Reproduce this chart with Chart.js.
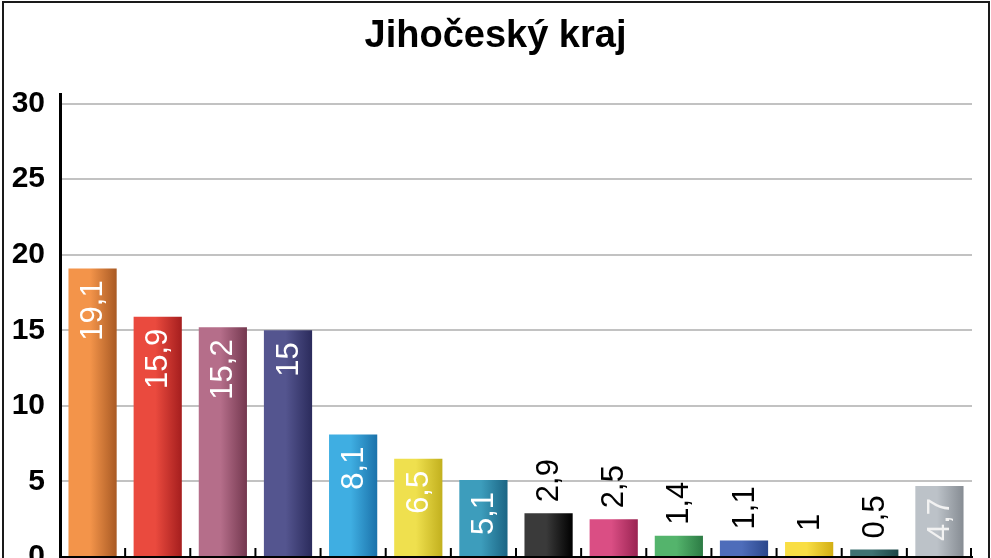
<!DOCTYPE html>
<html>
<head>
<meta charset="utf-8">
<script src="https://cdn.jsdelivr.net/npm/chart.js@4/dist/chart.umd.min.js"></script>
<style>
  html, body { margin: 0; padding: 0; background: #fff; overflow: hidden; }
  #wrap { position: relative; width: 991px; height: 558px; }
  #frame { position: absolute; left: 2px; top: 1px; width: 984px; height: 570px; border: 2px solid #1a1a1a; pointer-events: none; }
  canvas { position: absolute; left: 0; top: 0; }
</style>
</head>
<body>
<div id="wrap">
  <canvas id="c" width="991" height="558"></canvas>
  <div id="frame"></div>
</div>
<script>
const title = 'Jihočeský kraj';
const categories = ['1', '2', '3', '4', '5', '6', '7', '8', '9', '10', '11', '12', '13', '14'];
const values = [19.1, 15.9, 15.2, 15, 8.1, 6.5, 5.1, 2.9, 2.5, 1.4, 1.1, 1, 0.5, 4.7];
const colorsLight = ['#F3944A', '#EA4A3E', '#B56E8A', '#54558F', '#3FAEE2', '#EFE04E', '#3D9DBC', '#3A3A3A', '#DA4E84', '#54B46C', '#4E6DBA', '#F9DE44', '#3E7272', '#BCC2C8'];
const colorsDark  = ['#A95A24', '#A51E1E', '#74384F', '#2B2B5C', '#1B72AA', '#C2B01E', '#1B6584', '#000000', '#9A2452', '#2C7B44', '#2B478C', '#D2AE14', '#1C4646', '#868C93'];
const yTicks = [0, 5, 10, 15, 20, 25, 30];
const yMax = 30.6;

const FONT = '"Liberation Sans", Arial, Helvetica, sans-serif';
const BAR_PCT = 0.74;

function barGradient(ctx) {
  const chart = ctx.chart;
  const i = ctx.dataIndex;
  const area = chart.chartArea;
  const xs = chart.scales.x;
  if (!area || !xs || i === undefined) return colorsLight[i || 0];
  const cw = (area.right - area.left) / categories.length;
  const w = cw * BAR_PCT;
  const cx = xs.getPixelForValue(i);
  const g = chart.ctx.createLinearGradient(cx - w / 2, 0, cx + w / 2, 0);
  g.addColorStop(0, colorsLight[i]);
  g.addColorStop(0.45, colorsLight[i]);
  g.addColorStop(1, colorsDark[i]);
  return g;
}

const valueLabels = {
  id: 'valueLabels',
  afterDatasetsDraw(chart) {
    const ctx = chart.ctx;
    const meta = chart.getDatasetMeta(0);
    ctx.save();
    ctx.font = '31px ' + FONT;
    ctx.textBaseline = 'middle';
    meta.data.forEach((bar, i) => {
      const v = values[i];
      const txt = String(v).replace('.', ',');
      ctx.save();
      if (v > 4) {
        ctx.translate(bar.x, bar.y + 12);
        ctx.rotate(-Math.PI / 2);
        ctx.textAlign = 'right';
        ctx.fillStyle = i === 13 ? '#F2F2F2' : '#FFFFFF';
      } else {
        ctx.translate(bar.x, bar.y - 11);
        ctx.rotate(-Math.PI / 2);
        ctx.textAlign = 'left';
        ctx.fillStyle = '#000000';
      }
      ctx.fillText(txt, 0, 1);
      ctx.restore();
    });
    ctx.restore();
  }
};

const innerTicks = {
  id: 'innerTicks',
  afterDraw(chart) {
    const ctx = chart.ctx;
    const xs = chart.scales.x;
    const area = chart.chartArea;
    ctx.save();
    ctx.strokeStyle = '#000';
    ctx.lineWidth = 2;
    ctx.beginPath();
    for (let i = 0; i < categories.length; i++) {
      const x = i < categories.length - 1
        ? (xs.getPixelForValue(i) + xs.getPixelForValue(i + 1)) / 2
        : area.right - 1;
      ctx.moveTo(x, area.bottom);
      ctx.lineTo(x, area.bottom - 9);
    }
    ctx.stroke();
    ctx.restore();
  }
};

new Chart(document.getElementById('c'), {
  type: 'bar',
  data: {
    labels: categories,
    datasets: [{
      data: values,
      backgroundColor: barGradient,
      borderWidth: 0,
      barPercentage: BAR_PCT,
      categoryPercentage: 1
    }]
  },
  options: {
    responsive: false,
    animation: false,
    devicePixelRatio: 1,
    layout: { padding: 0 },
    plugins: {
      legend: { display: false },
      tooltip: { enabled: false },
      title: {
        display: true,
        text: title,
        color: '#000',
        font: { family: FONT, size: 38, weight: 'bold', lineHeight: 1.2 },
        padding: { top: 14, bottom: 35 }
      }
    },
    scales: {
      x: {
        ticks: { display: false },
        grid: { display: false, drawTicks: false },
        border: { display: true, color: '#000', width: 2 },
        afterFit(scale) { scale.height = 1; scale.paddingLeft = 0; scale.paddingRight = 0; }
      },
      y: {
        min: 0,
        max: yMax,
        afterBuildTicks(scale) { scale.ticks = yTicks.map(v => ({ value: v })); },
        ticks: {
          color: '#000',
          padding: 15,
          font: { family: FONT, size: 30, weight: 'bold' }
        },
        grid: { color: '#C2C2C2', lineWidth: 2, drawTicks: false },
        border: { display: true, color: '#000', width: 3 },
        afterFit(scale) { scale.width = 60; scale.paddingTop = 0; scale.paddingBottom = 0; }
      },
      yRight: {
        type: 'linear',
        position: 'right',
        display: true,
        ticks: { display: false },
        grid: { display: false, drawTicks: false },
        border: { display: false },
        afterFit(scale) { scale.width = 19; scale.paddingTop = 0; scale.paddingBottom = 0; }
      }
    }
  },
  plugins: [valueLabels, innerTicks]
});
</script>
</body>
</html>
